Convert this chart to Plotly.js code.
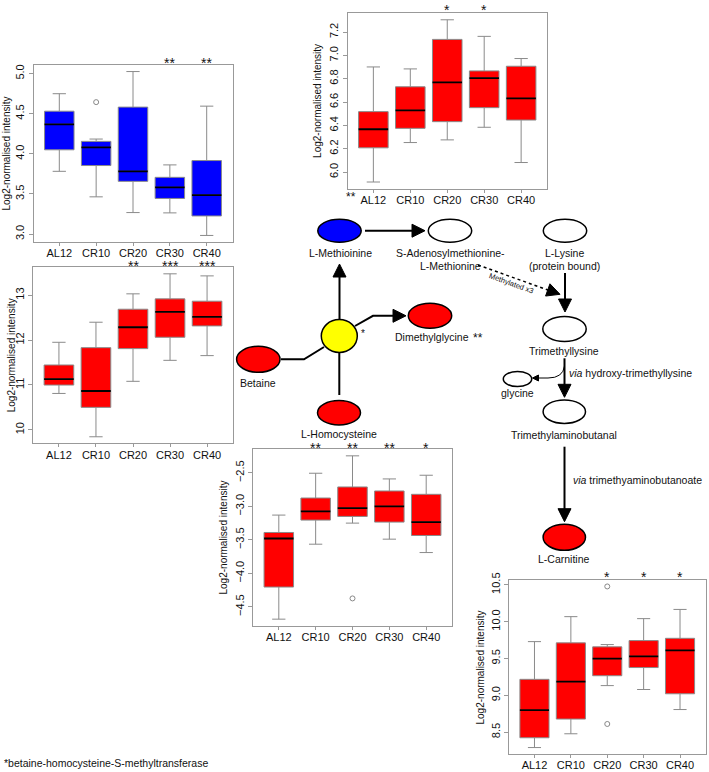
<!DOCTYPE html>
<html><head><meta charset="utf-8">
<script src="https://cdn.plot.ly/plotly-3.0.1.min.js"></script>
<style>html,body{margin:0;padding:0;background:#fff}#chart{width:709px;height:772px}</style>
</head><body><div id="chart"></div>
<script>
// ---------- DATA ----------
const groups = ['AL12', 'CR10', 'CR20', 'CR30', 'CR40'];

// L-Methionine (blue)
const metLo  = [3.782, 3.464, 3.268, 3.264, 2.983];
const metQ1  = [4.050, 3.854, 3.657, 3.444, 3.226];
const metMed = [4.368, 4.080, 3.782, 3.582, 3.485];
const metQ3  = [4.531, 4.155, 4.582, 3.707, 3.916];
const metHi  = [4.749, 4.184, 5.025, 3.862, 4.594];
const metOutG = ['CR10'];
const metOutV = [4.644];
const metStars = ['', '', '', '**', '**'];

// Betaine
const betLo  = [10.810, 9.844, 11.080, 11.548, 11.653];
const betQ1  = [10.997, 10.500, 11.809, 12.062, 12.315];
const betMed = [11.130, 10.864, 12.285, 12.628, 12.516];
const betQ3  = [11.444, 11.830, 12.687, 12.918, 12.866];
const betHi  = [11.950, 12.397, 13.030, 13.476, 13.430];
const betOutG = [];
const betOutV = [];
const betStars = ['', '', '**', '***', '***'];

// Dimethylglycine
const dmgLo  = [5.915, 6.253, 6.276, 6.384, 6.082];
const dmgQ1  = [6.208, 6.375, 6.432, 6.552, 6.446];
const dmgMed = [6.367, 6.529, 6.768, 6.805, 6.631];
const dmgQ3  = [6.518, 6.731, 7.137, 6.867, 6.907];
const dmgHi  = [6.901, 6.884, 7.305, 7.163, 6.973];
const dmgOutG = [];
const dmgOutV = [];
const dmgStars = ['', '', '*', '*', ''];

// L-Homocysteine
const hcyLo  = [-4.685, -3.565, -3.250, -3.490, -3.690];
const hcyQ1  = [-4.205, -3.205, -3.150, -3.235, -3.435];
const hcyMed = [-3.480, -3.075, -3.025, -3.000, -3.235];
const hcyQ3  = [-3.390, -2.875, -2.710, -2.770, -2.820];
const hcyHi  = [-3.130, -2.505, -2.245, -2.590, -2.535];
const hcyOutG = ['CR20'];
const hcyOutV = [-4.375];
const hcyStars = ['', '**', '**', '**', '*'];

// L-Carnitine
const carLo  = [8.291, 8.478, 9.132, 9.079, 8.807];
const carQ1  = [8.424, 8.678, 9.266, 9.377, 9.021];
const carMed = [8.798, 9.186, 9.498, 9.529, 9.609];
const carQ3  = [9.217, 9.712, 9.658, 9.743, 9.774];
const carHi  = [9.729, 10.068, 9.689, 10.041, 10.166];
const carOutG = ['CR20', 'CR20'];
const carOutV = [10.478, 8.611];
const carStars = ['', '', '*', '*', '*'];

const yTitle = 'Log2-normalised intensity';

// ---------- LAYOUT HELPERS ----------
const W = 709, H = 772;
const X = v => v / W, Y = v => 1 - v / H;
const FONT = 'Liberation Sans, Arial, sans-serif';
const pos = groups.map((g, i) => i + 1);
const gi = g => groups.indexOf(g) + 1;

const panels = [
  {id: '',  lo: metLo, q1: metQ1, med: metMed, q3: metQ3, hi: metHi, og: metOutG, ov: metOutV, stars: metStars,
   fill: '#0000FF', dom: [33.5, 232.5, 65, 242], dtick: 0.5, fmt: '.1f', titleX: 6, starY: 63.5},
  {id: '2', lo: betLo, q1: betQ1, med: betMed, q3: betQ3, hi: betHi, og: betOutG, ov: betOutV, stars: betStars,
   fill: '#FF0000', dom: [33, 233, 267.3, 443.3], dtick: 1, fmt: 'd', titleX: 11, starY: 265.5},
  {id: '3', lo: dmgLo, q1: dmgQ1, med: dmgMed, q3: dmgQ3, hi: dmgHi, og: dmgOutG, ov: dmgOutV, stars: dmgStars,
   fill: '#FF0000', dom: [347.5, 547, 13.3, 188.5], dtick: 0.2, fmt: '.1f', titleX: 318, starY: 9.5},
  {id: '4', lo: hcyLo, q1: hcyQ1, med: hcyMed, q3: hcyQ3, hi: hcyHi, og: hcyOutG, ov: hcyOutV, stars: hcyStars,
   fill: '#FF0000', dom: [253, 452, 449.3, 625.7], dtick: 0.5, fmt: '.1f', titleX: 223, starY: 448.5},
  {id: '5', lo: carLo, q1: carQ1, med: carMed, q3: carQ3, hi: carHi, og: carOutG, ov: carOutV, stars: carStars,
   fill: '#FF0000', dom: [509, 705.5, 580, 754], dtick: 0.5, fmt: '.1f', titleX: 479.5, starY: 576.5}
];

const traces = [];
const layout = {
  width: W, height: H, margin: {l: 0, r: 0, t: 0, b: 0},
  paper_bgcolor: '#fff', plot_bgcolor: 'rgba(0,0,0,0)',
  font: {family: FONT, size: 11, color: '#111'},
  showlegend: false, hovermode: false,
  shapes: [], annotations: []
};

panels.forEach(p => {
  const xa = 'x' + p.id, ya = 'y' + p.id;
  traces.push({
    type: 'box', xaxis: xa, yaxis: ya, x: pos,
    q1: p.q1, median: p.med, q3: p.q3, lowerfence: p.lo, upperfence: p.hi,
    width: 0.8, whiskerwidth: 0.45, fillcolor: p.fill,
    line: {color: '#8a8a8a', width: 1}, boxpoints: false, hoverinfo: 'skip'
  });
  const mx = [], my = [];
  p.med.forEach((m, i) => { mx.push(pos[i] - 0.4, pos[i] + 0.4, null); my.push(m, m, null); });
  traces.push({type: 'scatter', mode: 'lines', xaxis: xa, yaxis: ya, x: mx, y: my,
    line: {color: '#000', width: 1.8}, hoverinfo: 'skip'});
  if (p.og.length) {
    traces.push({type: 'scatter', mode: 'markers', xaxis: xa, yaxis: ya,
      x: p.og.map(gi), y: p.ov,
      marker: {symbol: 'circle-open', size: 5, color: '#888', line: {width: 1}}, hoverinfo: 'skip'});
  }
  const all = p.lo.concat(p.hi, p.ov);
  const mn = Math.min(...all), mxv = Math.max(...all), pad = (mxv - mn) * 0.04;
  const [l, r, t, b] = p.dom;
  layout['xaxis' + p.id] = {
    domain: [X(l), X(r)], anchor: ya, range: [0.3, 5.7],
    tickvals: pos, ticktext: groups, ticks: 'outside', ticklen: 3, tickcolor: '#999',
    ticklabelstandoff: -2,
    showline: true, mirror: true, linecolor: '#999', linewidth: 1,
    showgrid: false, zeroline: false, fixedrange: true,
    tickfont: {size: 11, color: '#111', family: FONT}
  };
  layout['yaxis' + p.id] = {
    domain: [Y(b), Y(t)], anchor: xa, range: [mn - pad, mxv + pad],
    dtick: p.dtick, tick0: 0, tickformat: p.fmt, tickangle: -90,
    ticks: 'outside', ticklen: 4, tickcolor: '#999',
    showline: true, mirror: true, linecolor: '#999', linewidth: 1,
    showgrid: false, zeroline: false, fixedrange: true,
    tickfont: {size: 11, color: '#111', family: FONT}
  };
  layout.annotations.push({xref: 'paper', yref: 'paper', x: X(p.titleX), y: Y((t + b) / 2),
    text: yTitle, textangle: -90, showarrow: false, xanchor: 'center', yanchor: 'middle',
    font: {size: 10, color: '#111', family: FONT}});
  p.stars.forEach((s, i) => {
    if (!s) return;
    layout.annotations.push({xref: xa, yref: 'paper', x: pos[i], y: Y(p.starY), text: s,
      showarrow: false, xanchor: 'center', yanchor: 'middle', font: {size: 14, color: '#111', family: FONT}});
  });
});

// ---------- PATHWAY DIAGRAM ----------
const S = layout.shapes, A = layout.annotations;
function ell(cx, cy, rx, ry, fill) {
  S.push({type: 'circle', xref: 'paper', yref: 'paper', x0: X(cx - rx), x1: X(cx + rx), y0: Y(cy + ry), y1: Y(cy - ry),
    fillcolor: fill, line: {color: '#000', width: 1.5}, layer: 'above'});
}
function poly(pts, w, dash) {
  const d = pts.map((q, i) => (i ? 'L' : 'M') + X(q[0]) + ',' + Y(q[1])).join(' ');
  S.push({type: 'path', xref: 'paper', yref: 'paper', path: d, line: {color: '#000', width: w, dash: dash || 'solid'}, layer: 'above'});
}
function head(tx, ty, dx, dy, len, hw) {
  const L = Math.hypot(dx, dy), ux = dx / L, uy = dy / L;
  const bx = tx - ux * len, by = ty - uy * len, nx = -uy, ny = ux;
  const pts = [[tx, ty], [bx + nx * hw, by + ny * hw], [bx - nx * hw, by - ny * hw]];
  const d = pts.map((q, i) => (i ? 'L' : 'M') + X(q[0]) + ',' + Y(q[1])).join(' ') + ' Z';
  S.push({type: 'path', xref: 'paper', yref: 'paper', path: d, fillcolor: '#000', line: {color: '#000', width: 1}, layer: 'above'});
}
function arrow(x0, y0, x1, y1, w, len, hw, dash) {
  const L = Math.hypot(x1 - x0, y1 - y0), ux = (x1 - x0) / L, uy = (y1 - y0) / L;
  poly([[x0, y0], [x1 - ux * (len - 1), y1 - uy * (len - 1)]], w, dash);
  head(x1, y1, ux, uy, len, hw);
}
function txt(x, y, t, opt) {
  opt = opt || {};
  A.push({xref: 'paper', yref: 'paper', x: X(x), y: Y(y), text: t, showarrow: false,
    xanchor: opt.xa || 'center', yanchor: 'middle', textangle: opt.angle || 0,
    font: {size: opt.size || 10.5, color: '#111', family: FONT}});
}

// lines and arrows
arrow(365, 230.7, 425, 230.7, 2, 13, 6.5);          // Methionine -> SAM
arrow(339.5, 319, 339.5, 264, 2, 13, 6.5);          // BHMT -> Methionine
poly([[355, 326], [373, 315.8], [395, 315.8]], 2);   // BHMT -> DMG
head(406, 315.8, 1, 0, 13, 6.5);
poly([[281, 359.3], [304, 359.3], [324, 347]], 2);   // Betaine -> BHMT
poly([[339.3, 352.5], [339.3, 395]], 2);            // Homocysteine
arrow(565, 273, 565, 312, 2, 13, 6.5);              // Lysine -> Trimethyllysine
arrow(478, 265, 560, 294.3, 1.5, 13, 6.5, 'dot');   // methylation
arrow(564.5, 358.3, 564.5, 397.3, 2, 13, 6.5);      // -> Trimethylaminobutanal
S.push({type: 'path', xref: 'paper', yref: 'paper', layer: 'above',
  path: 'M' + X(564.5) + ',' + Y(366) + ' Q' + X(563) + ',' + Y(378) + ' ' + X(548) + ',' + Y(378) + ' L' + X(538) + ',' + Y(378),
  line: {color: '#000', width: 1}});
head(532.5, 378, -1, 0, 6, 3);
arrow(564.5, 446.7, 564.5, 521.7, 2, 13, 6.5);      // -> L-Carnitine

// nodes
ell(339.5, 230.7, 21.7, 11.5, '#0000FF');
ell(450, 230.7, 21.7, 11.5, '#FFFFFF');
ell(565, 230.7, 21.7, 11.5, '#FFFFFF');
ell(564.5, 329, 21.7, 12.5, '#FFFFFF');
ell(430, 315.8, 21.7, 12.5, '#FF0000');
ell(339.3, 336, 18, 16.5, '#FFFF00');
ell(258.3, 359.3, 21.7, 13, '#FF0000');
ell(339, 412.7, 21.5, 12.2, '#FF0000');
ell(517.5, 379, 14.2, 7.5, '#FFFFFF');
ell(564.3, 411.7, 21.2, 11.7, '#FFFFFF');
ell(564.3, 537.3, 21.2, 13, '#FF0000');

// labels
txt(340, 253.3, 'L-Methioinine');
txt(450, 253.3, 'S-Adenosylmethionine-');
txt(450, 265.7, 'L-Methionine');
txt(564, 253.3, 'L-Lysine');
txt(564, 265.7, '(protein bound)');
txt(511.7, 283.3, 'Methylated x3', {size: 7.5, angle: 20});
txt(362.7, 333.5, '*', {size: 10});
txt(431.7, 337.3, 'Dimethylglycine');
txt(478.5, 337.5, '**', {size: 12});
txt(258.3, 382.7, 'Betaine');
txt(339, 434.3, 'L-Homocysteine');
txt(564.3, 350.7, 'Trimethyllysine');
txt(517.3, 393.3, 'glycine');
txt(567.3, 372.7, '<i>via</i> hydroxy-trimethyllysine', {xa: 'left'});
txt(564, 435, 'Trimethylaminobutanal');
txt(570.7, 480, '<i>via</i> trimethyaminobutanoate', {xa: 'left'});
txt(564.3, 559.3, 'L-Carnitine');
txt(351, 197, '**', {size: 12});
txt(1.5, 763.3, '*betaine-homocysteine-S-methyltransferase', {xa: 'left'});

Plotly.newPlot('chart', traces, layout, {staticPlot: true, displayModeBar: false});
</script></body></html>
